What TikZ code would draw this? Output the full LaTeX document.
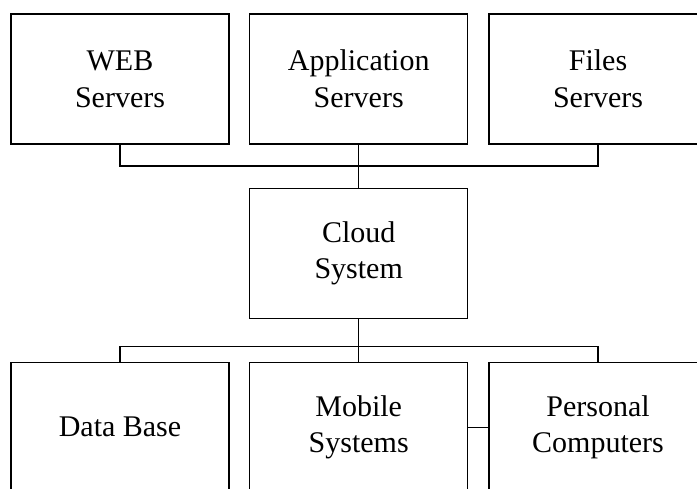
\documentclass[tikz,border=0pt]{standalone}
\usepackage{fontspec}
\setmainfont{Liberation Serif}
\begin{document}
\begin{tikzpicture}[x=1pt,y=-1pt,
  box/.style={draw=black,line width=1.3pt,rectangle,minimum width=218pt,minimum height=130pt,
    inner sep=0pt,align=center,font=\fontsize{30}{36.7}\selectfont},
  wire/.style={draw=black,line width=1.3pt},
  thinwire/.style={draw=black,line width=0.8pt}]
\clip (0,0) rectangle (697,488);
\useasboundingbox (0,0) rectangle (697,488);
\node[box] (web) at (120,79) {WEB\\Servers};
\node[box] (app) at (358.7,79) {Application\\Servers};
\node[box] (files) at (598,79) {Files\\Servers};
\node[box] (cloud) at (358.7,253.3) {Cloud\\System};
\node[box] (db) at (120,427.3) {Data Base};
\node[box] (mob) at (358.7,427.3) {Mobile\\Systems};
\node[box] (pc) at (598,427.3) {Personal\\Computers};
\coordinate (jt) at (358.7,166);
\coordinate (jb) at (358.7,346.7);
\draw[wire] (web.south) |- (jt) -| (files.south);
\draw[wire] (app.south) -- (cloud.north);
\draw[wire] (db.north) |- (jb) -| (pc.north);
\draw[wire] (cloud.south) -- (mob.north);
\draw[thinwire] (mob.east) -- (pc.west);
\end{tikzpicture}
\end{document}
